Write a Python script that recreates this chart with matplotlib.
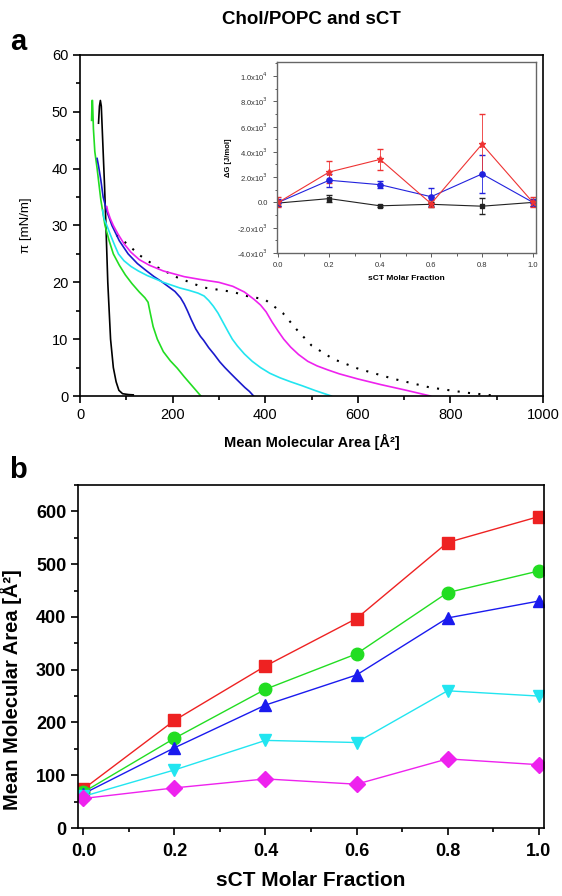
import matplotlib
matplotlib.use('Agg')
import matplotlib.pyplot as plt
from matplotlib.ticker import MultipleLocator

plt.rcParams["font.family"] = ["Liberation Sans", "DejaVu Sans"]

# ---------------- panel a: isotherms ----------------
black_area = [40, 42, 44, 46, 49, 53, 56, 60, 66, 72, 78, 84, 92, 105, 115]
black_pi = [48, 51, 52, 51, 45, 37, 30, 20, 10, 5, 2.5, 1, 0.4, 0.25, 0.2]

green_area = [25, 26, 27, 29, 32, 37, 45, 54, 63, 72, 85, 98, 112, 128, 140, 147,
              152, 158, 167, 180, 195, 210, 225, 243, 261]
green_pi = [48.5, 52, 52, 47, 43, 40, 34.5, 30, 27.3, 25, 23, 21.3, 19.8, 18.3, 17.3,
            16.5, 14.5, 12.2, 10, 7.8, 6.2, 4.9, 3.4, 1.7, 0]

blue_area = [37, 40, 45, 50, 58, 69, 85, 104, 124, 144, 160, 175, 190, 205, 217, 225,
             232, 240, 250, 260, 267, 278, 290, 302, 313, 325, 336, 346, 356, 366, 375]
blue_pi = [41.8, 40.5, 38, 35, 32.5, 30, 27.3, 25, 23.3, 22, 21, 20.2, 19.3, 18.4, 17.3,
           16.2, 15, 13.5, 11.8, 10.5, 9.8, 8.5, 7.3, 6, 5, 4, 3.1, 2.3, 1.5, 0.8, 0]

cyan_area = [49, 50, 53, 58, 66, 75, 83, 95, 110, 126, 145, 163, 180, 198, 216, 235, 255,
             268, 278, 288, 298, 310, 320, 329, 340, 355, 372, 390, 410, 432, 455, 480,
             510, 543]
cyan_pi = [32.7, 32, 31, 30, 28.3, 26.5, 25, 23.8, 22.8, 22, 21.2, 20.6, 20, 19.5, 19,
           18.6, 18.1, 17.6, 16.8, 15.8, 14.6, 12.8, 11.3, 10, 8.8, 7.4, 6.1, 5, 4, 3.2,
           2.5, 1.8, 0.9, 0]

magenta_area = [58, 60, 65, 72, 82, 95, 110, 128, 150, 180, 225, 260, 300, 330, 355, 376,
                390, 402, 415, 428, 440, 455, 472, 492, 512, 535, 560, 600, 650, 705, 757]
magenta_pi = [33.3, 32.5, 31.3, 30, 28.5, 26.8, 25.3, 24, 23, 22, 21, 20.5, 20, 19.3,
              18.3, 17, 16, 14.8, 13, 11.4, 10, 8.6, 7.3, 6.1, 5.3, 4.6, 3.9, 3, 2, 1, 0]

dotted_area = [79, 101, 130, 166, 209, 266, 331, 360, 399, 438, 469, 500, 547, 601, 678,
               756, 833, 903]
dotted_pi = [28.3, 26.8, 24.7, 22.7, 20.9, 19.1, 18.3, 17.6, 17, 14.6, 11.6, 8.9, 6.5,
             4.8, 3, 1.5, 0.6, 0]

# ---------------- inset: free energy ----------------
frac = [0.0, 0.2, 0.4, 0.6, 0.8, 1.0]
dg_red = [0, 2400, 3400, -100, 4600, 0]
dg_red_err = [400, 850, 850, 300, 2400, 400]
dg_blue = [0, 1750, 1400, 450, 2250, 0]
dg_blue_err = [300, 500, 300, 700, 1500, 300]
dg_black = [-50, 300, -270, -150, -300, 0]
dg_black_err = [250, 300, 100, 200, 650, 250]

# ---------------- panel b: area vs fraction ----------------
area_red = [74, 204, 307, 397, 541, 590]
area_green = [68, 170, 263, 330, 446, 487]
area_blue = [65, 152, 233, 290, 398, 430]
area_cyan = [60, 110, 166, 162, 260, 250]
area_magenta = [56, 76, 93, 83, 131, 120]

W, H = 562, 896
fig = plt.figure(figsize=(W / 100, H / 100), dpi=100)


def px_axes(left, top, right, bottom):
    return fig.add_axes([left / W, 1 - bottom / H, (right - left) / W, (bottom - top) / H])


def style_axes(ax, lw=1.2, length=5):
    for s in ax.spines.values():
        s.set_linewidth(lw)
    ax.tick_params(which='both', direction='out', top=False, right=False, width=lw)
    ax.tick_params(which='major', length=length)
    ax.tick_params(which='minor', length=length * 0.6)


# ---- panel a ----
ax = px_axes(80, 55, 543, 396)
ax.plot(dotted_area, dotted_pi, color='black', lw=1.5, linestyle=(0, (1, 4)))
ax.plot(black_area, black_pi, color='black', lw=1.2)
ax.plot(green_area, green_pi, color='#22dd22', lw=1.2)
ax.plot(blue_area, blue_pi, color='#1a1acc', lw=1.2)
ax.plot(cyan_area, cyan_pi, color='#22e5f0', lw=1.2)
ax.plot(magenta_area, magenta_pi, color='#ee22ee', lw=1.2)
ax.set_xlim(0, 1000)
ax.set_ylim(0, 60)
ax.xaxis.set_major_locator(MultipleLocator(200))
ax.xaxis.set_minor_locator(MultipleLocator(100))
ax.yaxis.set_major_locator(MultipleLocator(10))
ax.yaxis.set_minor_locator(MultipleLocator(5))
style_axes(ax)
ax.tick_params(labelsize=10.5)
ax.set_xlabel('Mean Molecular Area [Å²]', fontsize=10.5, fontweight='bold', labelpad=9)
ax.set_ylabel('π [mN/m]', fontsize=9.5, labelpad=14)

# ---- inset ----
ins = px_axes(277, 62, 536, 253)
ins.errorbar(frac, dg_black, yerr=dg_black_err, color='#222222', marker='s', ms=3.5,
             lw=0.8, elinewidth=0.6, capsize=2)
ins.errorbar(frac, dg_blue, yerr=dg_blue_err, color='#2222dd', marker='o', ms=3.8,
             lw=0.8, elinewidth=0.6, capsize=2, mfc='#2222dd', mec='#2222dd')
ins.errorbar(frac, dg_red, yerr=dg_red_err, color='#ee3333', marker='*', ms=5,
             lw=0.8, elinewidth=0.6, capsize=2)
ins.set_xlim(-0.005, 1.012)
ins.set_ylim(-4000, 11100)
ins.xaxis.set_minor_locator(MultipleLocator(0.1))
ins.yaxis.set_minor_locator(MultipleLocator(1000))
ins.set_xticks(frac)
ins.set_xticklabels(['0.0', '0.2', '0.4', '0.6', '0.8', '1.0'])
yt = [-4000, -2000, 0, 2000, 4000, 6000, 8000, 10000]
ins.set_yticks(yt)
ins.set_yticklabels([r'-4.0x10$^{3}$', r'-2.0x10$^{3}$', '0.0', r'2.0x10$^{3}$',
                     r'4.0x10$^{3}$', r'6.0x10$^{3}$', r'8.0x10$^{3}$', r'1.0x10$^{4}$'])
for s in ins.spines.values():
    s.set_color('#666666')
    s.set_linewidth(1.0)
ins.tick_params(which='both', direction='out', top=False, right=False, width=0.6,
                colors='#444444', labelsize=5.5, labelcolor='#333333')
ins.tick_params(which='major', length=3)
ins.tick_params(which='minor', length=1.8)
ins.set_xlabel('sCT Molar Fraction', fontsize=6, fontweight='bold', labelpad=4)
ins.set_ylabel('ΔG [J/mol]', fontsize=5.5, fontweight='bold', labelpad=4)

# ---- panel b ----
bx = px_axes(78, 485, 544, 828)
bx.plot(frac, area_red, color='#ee2222', lw=1.0, marker='s', ms=8)
bx.plot(frac, area_green, color='#22dd22', lw=1.0, marker='o', ms=9)
bx.plot(frac, area_blue, color='#1a1aee', lw=1.0, marker='^', ms=9)
bx.plot(frac, area_cyan, color='#22e5f0', lw=1.0, marker='v', ms=9)
bx.plot(frac, area_magenta, color='#ee22ee', lw=1.0, marker='D', ms=8)
bx.set_xlim(-0.012, 1.012)
bx.set_ylim(0, 650)
bx.xaxis.set_minor_locator(MultipleLocator(0.1))
bx.yaxis.set_major_locator(MultipleLocator(100))
bx.yaxis.set_minor_locator(MultipleLocator(50))
bx.set_xticks(frac)
bx.set_xticklabels(['0.0', '0.2', '0.4', '0.6', '0.8', '1.0'])
style_axes(bx)
for lab in bx.get_xticklabels() + bx.get_yticklabels():
    lab.set_fontweight('bold')
    lab.set_fontsize(13)
bx.tick_params(axis='x', pad=6)

# ---- figure texts ----
fig.text(311 / W, 1 - 20 / H, 'Chol/POPC and sCT', ha='center', va='center',
         fontsize=13.5, fontweight='bold')
fig.text(18 / W, 1 - 42 / H, 'a', ha='center', va='center', fontsize=21, fontweight='bold')
fig.text(18 / W, 1 - 470 / H, 'b', ha='center', va='center', fontsize=21, fontweight='bold')
fig.text(11 / W, 1 - 690 / H, 'Mean Molecular Area [Å²]', ha='center', va='center',
         rotation=90, fontsize=14.5, fontweight='bold')
fig.text(311 / W, 1 - 880 / H, 'sCT Molar Fraction', ha='center', va='center',
         fontsize=15, fontweight='bold')

fig.savefig('out.png', dpi=100)
